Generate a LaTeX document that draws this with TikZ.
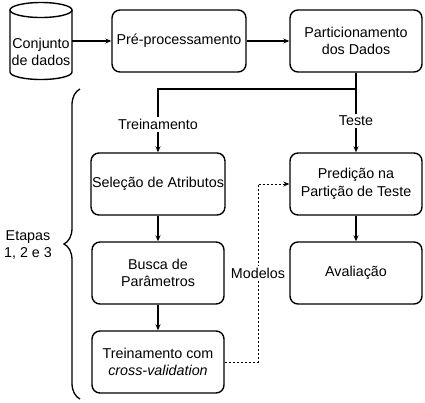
\documentclass[tikz,border=0pt]{standalone}
\usepackage{fontspec}
\setmainfont{Liberation Sans}
\usetikzlibrary{arrows.meta,decorations.pathreplacing}
\begin{document}
\begin{tikzpicture}[x=1pt,y=-1pt, font=\fontsize{14.3}{17.5}\selectfont,
 box/.style={draw, line width=1.4pt, rounded corners=8pt, minimum width=132pt, minimum height=62pt, align=center, inner sep=1pt},
 arr/.style={line width=1.3pt, -{Stealth[length=6pt,width=5pt]}},
 dsh/.style={line width=0.8pt, dash pattern=on 2pt off 2pt, -{Stealth[length=6pt,width=5pt]}},
 lab/.style={fill=white, inner sep=2pt}]
\useasboundingbox (0,0) rectangle (425,402);
% database cylinder
\draw[line width=1.4pt] (10,10) -- (10,72) arc (180:0:31 and 7.5) -- (72,10);
\draw[line width=1.4pt] (41,10) ellipse (31 and 7.5);
\node[align=center, inner sep=0pt] (db) at (41,52) {Conjunto\\de dados};
\coordinate (dbe) at (72,41);
\node[box, minimum width=134pt] (pre) at (179,41) {Pré-processamento};
\node[box] (part) at (356,41) {Particionamento\\dos Dados};
\node[box] (sel) at (158,184) {Seleção de Atributos};
\node[box] (pred) at (356,184) {Predição na\\Partição de Teste};
\node[box] (busca) at (158,273) {Busca de\\Parâmetros};
\node[box] (aval) at (356,273) {Avaliação};
\node[box] (trn) at (158,362) {Treinamento com\\\textit{cross-validation}};
\coordinate (split) at (356,89);
\coordinate (mx) at (258,0);
\draw[arr] (dbe) -- (pre.west);
\draw[arr] (pre.east) -- (part.west);
\draw[line width=1.3pt] (part.south) -- (split);
\draw[arr] (split) -| node[lab, pos=0.78] {Treinamento} (sel.north);
\draw[arr] (split) -- node[lab] {Teste} (pred.north);
\draw[arr] (sel.south) -- (busca.north);
\draw[arr] (busca.south) -- (trn.north);
\draw[arr] (pred.south) -- (aval.north);
\draw[dsh] (trn.east) -| (mx |- pred.west) -- (pred.west);
\node[lab] (modelos) at (258,273) {Modelos};
\draw[line width=1.3pt, decorate, decoration={brace, amplitude=16pt}] (80,399) -- (80,89);
\node[align=center] (etapas) at (28,245) {Etapas\\1, 2 e 3};
\end{tikzpicture}
\end{document}
